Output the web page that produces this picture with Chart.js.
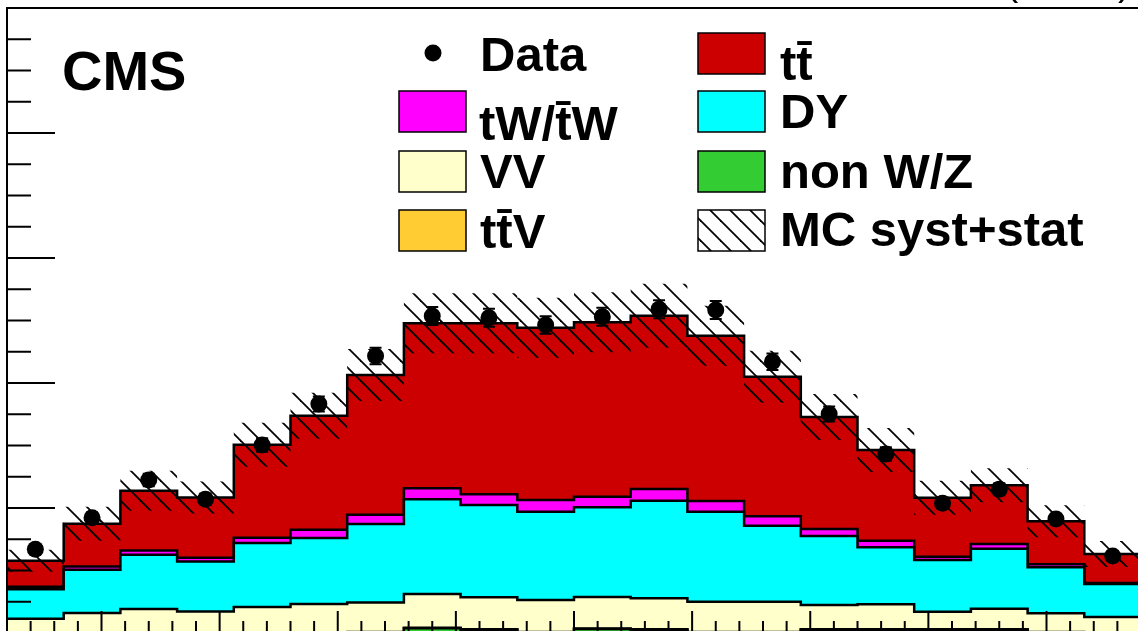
<!DOCTYPE html>
<html>
<head>
<meta charset="utf-8">
<script src="https://cdn.jsdelivr.net/npm/chart.js@4.4.1/dist/chart.umd.min.js"></script>
<style>
html, body { margin: 0; padding: 0; background: #fff; overflow: hidden; }
#wrap { position: relative; width: 1138px; height: 631px; overflow: hidden; }
#c { position: absolute; left: 0; top: 0; display: block; }
</style>
</head>
<body>
<div id="wrap"><canvas id="c" width="1142" height="634"></canvas></div>
<script>
// lepton eta, 20 bins from -2.4 to 2.4
const binEdges = [-2.4, -2.16, -1.92, -1.68, -1.44, -1.2, -0.96, -0.72, -0.48, -0.24, 0,
                  0.24, 0.48, 0.72, 0.96, 1.2, 1.44, 1.68, 1.92, 2.16, 2.4];
const binCenters = [-2.28, -2.04, -1.8, -1.56, -1.32, -1.08, -0.84, -0.6, -0.36, -0.12,
                    0.12, 0.36, 0.6, 0.84, 1.08, 1.32, 1.56, 1.8, 2.04, 2.28];

// MC stack, bottom to top (events / bin)
const nonWZ = [1, 1, 1, 1, 1, 1, 2, 19, 13, 2, 16, 13, 2, 2, 13, 13, 13, 13, 2, 1];
const ttV   = [2, 2, 2, 2, 2, 2, 2, 2, 2, 2, 2, 2, 2, 2, 2, 2, 2, 2, 2, 2];
const vv    = [54, 77, 93, 83, 101, 113, 118, 135, 128, 128, 126, 124, 121, 121, 97, 100, 70, 82, 75, 61];
const dy    = [118, 173, 217, 200, 256, 264, 314, 379, 369, 353, 359, 390, 360, 304, 276, 228, 207, 240, 184, 132];
const tw    = [10, 13, 17, 15, 21, 33, 37, 44, 43, 47, 42, 47, 43, 38, 28, 26, 13, 19, 12, 4];
const ttbar = [104, 171, 239, 241, 372, 456, 559, 660, 684, 689, 698, 693, 661, 558, 448, 363, 236, 235, 172, 116];
const mcUnc = [44, 68, 80, 64, 88, 92, 104, 120, 120, 120, 120, 128, 120, 104, 92, 88, 68, 68, 64, 52];

const dataVals = [335, 461, 612, 535, 752, 916, 1108, 1268, 1261, 1232, 1265, 1295, 1292, 1085, 876, 716, 519, 575, 456, 308];
const dataErr  = [18, 21, 25, 23, 27, 30, 33, 36, 36, 35, 36, 36, 36, 33, 30, 27, 23, 24, 21, 18];

const layers = [
    { label: 'non W/Z', values: nonWZ, color: '#33cc33' },
    { label: 'tt\u0304V', values: ttV, color: '#ffcc33' },
    { label: 'VV', values: vv, color: '#ffffcc' },
    { label: 'DY', values: dy, color: '#00ffff' },
    { label: 'tW/t\u0304W', values: tw, color: '#ff00ff' },
    { label: 'tt\u0304', values: ttbar, color: '#cc0000' }
];

const canvas = document.getElementById('c');
const ctx = canvas.getContext('2d');

function makeHatch() {
    const s = 20;
    const c = document.createElement('canvas');
    c.width = s; c.height = s;
    const g = c.getContext('2d');
    g.strokeStyle = '#000';
    g.lineWidth = 1.8;
    [-s, 0, s].forEach(off => {
        g.beginPath();
        g.moveTo(off - 2, -2);
        g.lineTo(off + s + 2, s + 2);
        g.stroke();
    });
    return ctx.createPattern(c, 'repeat');
}
const hatch = makeHatch();

// histogram as step line: one point per bin edge, last edge repeats last bin
function steps(vals) {
    return binEdges.map((x, i) => ({ x: x, y: vals[Math.min(i, vals.length - 1)] }));
}

const cum = [];
let running = binCenters.map(() => 0);
layers.forEach(l => {
    running = running.map((v, i) => v + l.values[i]);
    cum.push(running.slice());
});
const total = running;

const datasets = layers.map((l, k) => ({
    label: l.label,
    data: steps(cum[k]),
    stepped: true,
    borderColor: '#000',
    borderWidth: 2.5,
    backgroundColor: l.color,
    fill: k === 0 ? 'origin' : '-1',
    pointRadius: 0,
    order: 2
}));

datasets.push({
    label: 'unc-lo',
    data: steps(total.map((v, i) => v - mcUnc[i])),
    stepped: true,
    borderColor: 'rgba(0,0,0,0)',
    borderWidth: 1,
    fill: false,
    pointRadius: 0,
    order: 1
});
datasets.push({
    label: 'MC syst+stat',
    data: steps(total.map((v, i) => v + mcUnc[i])),
    stepped: true,
    borderColor: 'rgba(0,0,0,0)',
    borderWidth: 1,
    backgroundColor: hatch,
    fill: '-1',
    pointRadius: 0,
    order: 1
});
datasets.push({
    label: 'Data',
    data: binCenters.map((x, i) => ({ x: x, y: dataVals[i] })),
    showLine: false,
    pointRadius: 8.5,
    pointBackgroundColor: '#000',
    pointBorderWidth: 0,
    order: 0
});

const axesPlugin = {
    id: 'axesPlugin',
    afterDatasetsDraw(chart) {
        const { ctx, chartArea: a, scales: { x, y } } = chart;
        ctx.save();
        ctx.strokeStyle = '#000';
        ctx.lineWidth = 2;
        const seg = (x1, y1, x2, y2) => {
            ctx.beginPath(); ctx.moveTo(x1, y1); ctx.lineTo(x2, y2); ctx.stroke();
        };
        // error bars
        const meta = chart.getDatasetMeta(chart.data.datasets.length - 1);
        meta.data.forEach((pt, i) => {
            const top = y.getPixelForValue(dataVals[i] + dataErr[i]);
            const bot = y.getPixelForValue(dataVals[i] - dataErr[i]);
            seg(pt.x, top, pt.x, bot);
            seg(pt.x - 6, top, pt.x + 6, top);
            seg(pt.x - 6, bot, pt.x + 6, bot);
        });
        // y ticks, inward
        for (let v = 0; v <= 2500; v += 125) {
            const py = y.getPixelForValue(v);
            seg(a.left, py, a.left + (v % 500 === 0 ? 48 : 24), py);
        }
        // x ticks, inward
        for (let i = -24; i <= 24; i++) {
            const px = x.getPixelForValue(i / 10);
            seg(px, a.bottom, px, a.bottom - (i % 5 === 0 ? 22 : 12));
        }
        ctx.strokeRect(a.left, a.top, a.right - a.left, a.bottom - a.top);
        ctx.restore();
    },
    afterDraw(chart) {
        const { ctx } = chart;
        ctx.save();
        ctx.fillStyle = '#000';
        ctx.textBaseline = 'alphabetic';

        // header, mostly cut off at the top
        ctx.font = '39px "Liberation Sans"';
        ctx.textAlign = 'right';
        ctx.fillText('19.7 fb\u207B\u00B9 (8 TeV)', 1131, -5);

        ctx.textAlign = 'left';
        ctx.font = 'bold 56px "Liberation Sans"';
        ctx.fillText('CMS', 62, 90);

        // legend
        ctx.font = 'bold 49px "Liberation Sans"';
        const box = (bx, by, fill) => {
            ctx.fillStyle = fill;
            ctx.fillRect(bx, by, 67, 41);
            ctx.strokeStyle = '#000';
            ctx.lineWidth = 1.5;
            ctx.strokeRect(bx, by, 67, 41);
            ctx.fillStyle = '#000';
        };
        const col = c => layers.find(l => l.label === c).color;

        ctx.beginPath();
        ctx.arc(433, 53, 8.5, 0, Math.PI * 2);
        ctx.fill();
        ctx.fillText('Data', 480, 71);

        box(399, 91, col('tW/t\u0304W'));
        ctx.fillText('tW/t\u0304W', 479, 140);
        box(399, 151, col('VV'));
        ctx.fillText('VV', 480, 188);
        box(399, 210, col('tt\u0304V'));
        ctx.fillText('tt\u0304V', 480, 248);

        box(698, 33, col('tt\u0304'));
        ctx.fillText('tt\u0304', 780, 80);
        box(698, 91, col('DY'));
        ctx.fillText('DY', 780, 128);
        box(698, 151, col('non W/Z'));
        ctx.fillText('non W/Z', 780, 188);
        box(698, 210, hatch);
        ctx.fillText('MC syst+stat', 780, 246);
        ctx.restore();
    }
};

new Chart(ctx, {
    type: 'line',
    data: { datasets: datasets },
    options: {
        responsive: false,
        animation: false,
        devicePixelRatio: 1,
        layout: { autoPadding: false, padding: { left: 7, top: 8, right: 1, bottom: 1 } },
        plugins: { legend: { display: false }, tooltip: { enabled: false } },
        scales: {
            x: { type: 'linear', min: -2.4, max: 2.4, display: false },
            y: { type: 'linear', min: 0, max: 2500, display: false }
        }
    },
    plugins: [axesPlugin]
});
</script>
</body>
</html>
